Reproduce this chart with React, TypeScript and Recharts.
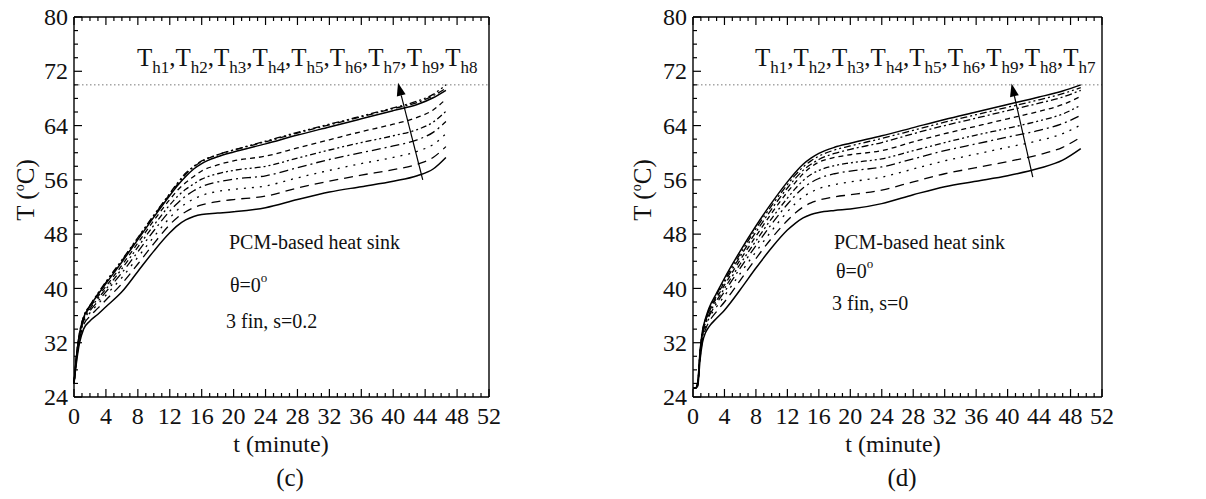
import React from "react";
import { LineChart, Line, XAxis, YAxis, ReferenceLine } from "recharts";

const SERIF = "'Liberation Serif', 'Times New Roman', serif";

// time grid (minutes) and temperature curves, case (c): 3 fin, s=0.2
const T_C = [0, 0.3, 0.7, 1.2, 2, 3, 4, 6, 8, 10, 12, 13, 14, 15, 16, 18, 20, 24, 28, 32, 36, 40, 43, 45, 46.6];
const C_H1 = [26, 29, 32, 34, 35.2, 36.2, 37.3, 39.5, 42.5, 45.5, 48.2, 49.3, 50.1, 50.6, 50.9, 51.1, 51.3, 51.9, 53.1, 54.2, 55, 55.8, 56.6, 57.6, 59.3];
const C_H2 = [26, 29.3, 32.5, 34.6, 35.9, 37.1, 38.3, 40.7, 43.6, 46.6, 49.4, 50.5, 51.3, 51.9, 52.3, 52.8, 53.1, 53.6, 54.8, 55.8, 56.7, 57.5, 58.3, 59.3, 60.9];
const C_H3 = [26, 29.5, 32.8, 35, 36.4, 37.7, 39, 41.6, 44.6, 47.6, 50.4, 51.6, 52.5, 53.2, 53.7, 54.3, 54.6, 55.1, 56.3, 57.4, 58.4, 59.3, 60.2, 61.2, 62.8];
const C_H4 = [26, 29.6, 33, 35.2, 36.7, 38.1, 39.5, 42.3, 45.4, 48.5, 51.4, 52.6, 53.6, 54.4, 55, 55.7, 56.1, 56.6, 57.8, 59, 60, 61, 61.9, 63, 64.6];
const C_H5 = [26, 29.7, 33.1, 35.4, 37, 38.5, 39.9, 42.9, 46.1, 49.3, 52.3, 53.6, 54.6, 55.4, 56.1, 56.9, 57.4, 58, 59.2, 60.4, 61.5, 62.5, 63.4, 64.5, 66.1];
const C_H6 = [26, 29.8, 33.2, 35.5, 37.2, 38.8, 40.3, 43.4, 46.7, 50, 53.1, 54.5, 55.6, 56.5, 57.3, 58.2, 58.8, 59.5, 60.7, 61.9, 63.1, 64.2, 65.2, 66.3, 67.9];
const C_H7 = [26, 29.9, 33.4, 35.7, 37.4, 39.1, 40.7, 43.9, 47.2, 50.5, 53.7, 55.2, 56.5, 57.6, 58.4, 59.4, 60.1, 61.3, 62.6, 63.8, 65, 66.2, 67.1, 68.1, 69.2];
const C_H9 = [26, 30, 33.5, 35.8, 37.5, 39.2, 40.9, 44.1, 47.4, 50.7, 53.9, 55.4, 56.8, 57.9, 58.7, 59.7, 60.4, 61.6, 62.9, 64.1, 65.3, 66.5, 67.4, 68.4, 69.5];
const C_H8 = [26, 30, 33.5, 35.8, 37.5, 39.3, 41, 44.2, 47.5, 50.8, 54, 55.6, 57, 58, 58.8, 59.7, 60.4, 61.7, 63, 64.2, 65.4, 66.6, 67.6, 68.6, 70];

// case (d): 3 fin, s=0
const T_D = [0, 0.3, 0.6, 0.9, 1.2, 1.6, 2, 3, 4, 6, 8, 10, 12, 13, 14, 15, 16, 18, 20, 24, 28, 32, 36, 40, 44, 47, 49.3];
const D_H1 = [25.3, 25.3, 25.6, 29.5, 32, 33.5, 34.3, 35.6, 36.8, 39.8, 43, 46, 48.6, 49.6, 50.4, 50.9, 51.2, 51.5, 51.7, 52.5, 53.8, 55, 55.8, 56.6, 57.7, 58.9, 60.6];
const D_H2 = [25.3, 25.3, 25.7, 29.8, 32.4, 34, 35, 36.6, 38, 41.2, 44.4, 47.4, 50, 51.1, 52, 52.6, 53, 53.5, 53.8, 54.5, 55.7, 56.9, 57.8, 58.7, 59.7, 60.8, 62.3];
const D_H3 = [25.3, 25.3, 25.8, 30, 32.7, 34.4, 35.5, 37.3, 38.9, 42.2, 45.4, 48.5, 51.3, 52.5, 53.5, 54.2, 54.7, 55.3, 55.7, 56.4, 57.6, 58.8, 59.8, 60.8, 61.8, 62.8, 64.1];
const D_H4 = [25.3, 25.3, 25.9, 30.2, 33, 34.7, 35.8, 37.8, 39.5, 43, 46.3, 49.5, 52.4, 53.7, 54.8, 55.6, 56.2, 56.9, 57.3, 57.9, 59.1, 60.3, 61.3, 62.3, 63.3, 64.3, 65.5];
const D_H5 = [25.3, 25.3, 26, 30.4, 33.2, 35, 36.1, 38.2, 40, 43.6, 47, 50.3, 53.3, 54.7, 55.9, 56.8, 57.4, 58.1, 58.5, 59.1, 60.3, 61.5, 62.6, 63.6, 64.7, 65.7, 67];
const D_H6 = [25.3, 25.3, 26, 30.5, 33.4, 35.2, 36.4, 38.6, 40.5, 44.2, 47.7, 51.1, 54.2, 55.6, 56.9, 57.9, 58.6, 59.3, 59.7, 60.3, 61.6, 62.8, 63.9, 65, 66.1, 67.1, 68.3];
const D_H9 = [25.3, 25.3, 26.1, 30.6, 33.5, 35.4, 36.6, 38.9, 40.9, 44.7, 48.3, 51.7, 54.8, 56.2, 57.4, 58.3, 59, 59.9, 60.5, 61.5, 62.8, 64, 65.1, 66.2, 67.3, 68.2, 69.2];
const D_H8 = [25.3, 25.3, 26.1, 30.7, 33.6, 35.5, 36.8, 39.1, 41.2, 45.1, 48.8, 52.2, 55.3, 56.7, 57.9, 58.8, 59.5, 60.4, 61, 62.1, 63.3, 64.5, 65.6, 66.7, 67.8, 68.7, 69.6];
const D_H7 = [25.3, 25.3, 26.2, 30.8, 33.7, 35.6, 37, 39.3, 41.5, 45.5, 49.2, 52.6, 55.7, 57.1, 58.3, 59.2, 59.9, 60.8, 61.4, 62.5, 63.7, 64.9, 66, 67.1, 68.2, 69.1, 70];

// axis ticks
const X_TICKS = Array.from({ length: 53 }, (_, i) => i);
const Y_TICKS = Array.from({ length: 29 }, (_, i) => 24 + i * 2);
const MELT_T = 70;

// legend order, bottom curve to top curve
const ORDER_C = ["h1", "h2", "h3", "h4", "h5", "h6", "h7", "h9", "h8"];
const ORDER_D = ["h1", "h2", "h3", "h4", "h5", "h6", "h9", "h8", "h7"];

const DASH: Record<string, string | undefined> = {
  h1: undefined,
  h2: "9 6",
  h3: "2 6",
  h4: "9 4 2 4",
  h5: "6 3 2 3 2 3",
  h6: "5 4",
  h7: undefined,
  h9: "7 3 2 3",
  h8: "7 3 2 3 2 3",
};

const rowsC = T_C.map((t, i) => ({
  t, h1: C_H1[i], h2: C_H2[i], h3: C_H3[i], h4: C_H4[i], h5: C_H5[i],
  h6: C_H6[i], h7: C_H7[i], h8: C_H8[i], h9: C_H9[i],
}));
const rowsD = T_D.map((t, i) => ({
  t, h1: D_H1[i], h2: D_H2[i], h3: D_H3[i], h4: D_H4[i], h5: D_H5[i],
  h6: D_H6[i], h7: D_H7[i], h8: D_H8[i], h9: D_H9[i],
}));

const TXT = { style: { fontFamily: SERIF }, fill: "#111" };

// inward tick marks, with labels on the left / bottom sides only
const makeTick = (side: "left" | "right" | "top" | "bottom") => (p: any) => {
  const { x, y, payload } = p;
  const v = payload.value as number;
  const major = side === "left" || side === "right" ? v % 8 === 0 : v % 4 === 0;
  const len = major ? 8 : 4;
  let line;
  if (side === "left") line = <line x1={x} x2={x + len} y1={y} y2={y} />;
  else if (side === "right") line = <line x1={x} x2={x - len} y1={y} y2={y} />;
  else if (side === "top") line = <line x1={x} x2={x} y1={y} y2={y + len} />;
  else line = <line x1={x} x2={x} y1={y} y2={y - len} />;
  return (
    <g stroke="#000" strokeWidth={1.2}>
      {line}
      {major && side === "left" && (
        <text x={x - 6} y={y} dy="0.34em" textAnchor="end" fontSize={24} stroke="none" {...TXT}>{v}</text>
      )}
      {major && side === "bottom" && (
        <text x={x} y={y + 27} textAnchor="middle" fontSize={24} stroke="none" {...TXT}>{v}</text>
      )}
    </g>
  );
};

const ArrowShape = (p: any) => {
  const { x1, y1, x2, y2 } = p;
  const a = Math.atan2(y2 - y1, x2 - x1);
  const L = 13;
  const W = 4.5;
  const bx = x2 - L * Math.cos(a);
  const by = y2 - L * Math.sin(a);
  const px = -Math.sin(a) * W;
  const py = Math.cos(a) * W;
  return (
    <g>
      <line x1={x1} y1={y1} x2={bx} y2={by} stroke="#000" strokeWidth={1.2} />
      <polygon points={`${x2},${y2} ${bx + px},${by + py} ${bx - px},${by - py}`} fill="#000" />
    </g>
  );
};

type PanelProps = {
  left: number;
  width: number;
  plotLeft: number;
  plotRight: number;
  rows: any[];
  order: string[];
  arrow: { x: number; y: number }[];
};

// axes take 1px each, margins are set so the plot box lands on plotLeft..plotRight, y 17..397
function Panel({ left, width, plotLeft, plotRight, rows, order, arrow }: PanelProps) {
  const axisLine = { stroke: "#000", strokeWidth: 1.4 };
  return (
    <div style={{ position: "absolute", left, top: 0 }}>
      <LineChart
        width={width}
        height={499}
        data={rows}
        margin={{ top: 16, bottom: 101, left: plotLeft - left - 1, right: left + width - plotRight - 1 }}
      >
        <XAxis dataKey="t" type="number" domain={[0, 52]} ticks={X_TICKS} interval={0}
          height={1} tickSize={0} tickMargin={0} tickLine={false} axisLine={axisLine} tick={makeTick("bottom")} />
        <XAxis xAxisId="top" orientation="top" dataKey="t" type="number" domain={[0, 52]} ticks={X_TICKS} interval={0}
          height={1} tickSize={0} tickMargin={0} tickLine={false} axisLine={axisLine} tick={makeTick("top")} />
        <YAxis type="number" domain={[24, 80]} ticks={Y_TICKS} interval={0}
          width={1} tickSize={0} tickMargin={0} tickLine={false} axisLine={axisLine} tick={makeTick("left")} />
        <YAxis yAxisId="right" orientation="right" type="number" domain={[24, 80]} ticks={Y_TICKS} interval={0}
          width={1} tickSize={0} tickMargin={0} tickLine={false} axisLine={axisLine} tick={makeTick("right")} />
        <ReferenceLine y={MELT_T} stroke="#777" strokeWidth={1} strokeDasharray="1.5 2.5" />
        {order.map((k) => (
          <Line
            key={k}
            dataKey={k}
            type="monotone"
            stroke="#000"
            strokeWidth={k === "h1" || k === "h7" ? 1.5 : 1.3}
            strokeDasharray={DASH[k]}
            dot={false}
            activeDot={false}
            isAnimationActive={false}
          />
        ))}
        <ReferenceLine segment={arrow} shape={ArrowShape} />
      </LineChart>
    </div>
  );
}

const SeriesTitle = ({ x, y, labels }: { x: number; y: number; labels: string[] }) => (
  <text x={x} y={y} fontSize={25} {...TXT}>
    {labels.map((s, i) => (
      <React.Fragment key={s}>
        <tspan>T</tspan>
        <tspan dy={7} fontSize={17}>{s}</tspan>
        {i < labels.length - 1 ? <tspan dy={-7}>,</tspan> : null}
      </React.Fragment>
    ))}
  </text>
);

const Degree = ({ dy = -10, size = 13 }: { dy?: number; size?: number }) => (
  <tspan dy={dy} fontSize={size}>o</tspan>
);

export default function App() {
  return (
    <div style={{ position: "absolute", left: 0, top: 0, width: 1206, height: 499, background: "#fff" }}>
      <Panel left={0} width={600} plotLeft={74} plotRight={489} rows={rowsC} order={ORDER_C}
        arrow={[{ x: 43.7, y: 56 }, { x: 40.6, y: 70.3 }]} />
      <Panel left={600} width={606} plotLeft={693} plotRight={1102} rows={rowsD} order={ORDER_D}
        arrow={[{ x: 43.2, y: 56.4 }, { x: 40.5, y: 70.2 }]} />
      <svg width={1206} height={499} style={{ position: "absolute", left: 0, top: 0, pointerEvents: "none" }}>
        {/* panel (c) */}
        <SeriesTitle x={137} y={66} labels={["h1", "h2", "h3", "h4", "h5", "h6", "h7", "h9", "h8"]} />
        <text x={229} y={249} fontSize={20} {...TXT}>PCM-based heat sink</text>
        <text x={230} y={292} fontSize={20} {...TXT}>θ=0<Degree /></text>
        <text x={226} y={328} fontSize={20} {...TXT}>3 fin, s=0.2</text>
        <text transform="translate(34,190) rotate(-90)" textAnchor="middle" fontSize={25} {...TXT}>
          T (<Degree dy={-10} size={14} /><tspan dy={10}>C)</tspan>
        </text>
        <text x={281} y={452} textAnchor="middle" fontSize={24} {...TXT}>t (minute)</text>
        <text x={290} y={486} textAnchor="middle" fontSize={25} {...TXT}>(c)</text>

        {/* panel (d) */}
        <SeriesTitle x={755} y={66} labels={["h1", "h2", "h3", "h4", "h5", "h6", "h9", "h8", "h7"]} />
        <text x={834} y={249} fontSize={20} {...TXT}>PCM-based heat sink</text>
        <text x={836} y={278} fontSize={20} {...TXT}>θ=0<Degree /></text>
        <text x={832} y={310} fontSize={20} {...TXT}>3 fin, s=0</text>
        <text transform="translate(651,190) rotate(-90)" textAnchor="middle" fontSize={25} {...TXT}>
          T (<Degree dy={-10} size={14} /><tspan dy={10}>C)</tspan>
        </text>
        <text x={893} y={452} textAnchor="middle" fontSize={24} {...TXT}>t (minute)</text>
        <text x={902} y={486} textAnchor="middle" fontSize={25} {...TXT}>(d)</text>
      </svg>
    </div>
  );
}
